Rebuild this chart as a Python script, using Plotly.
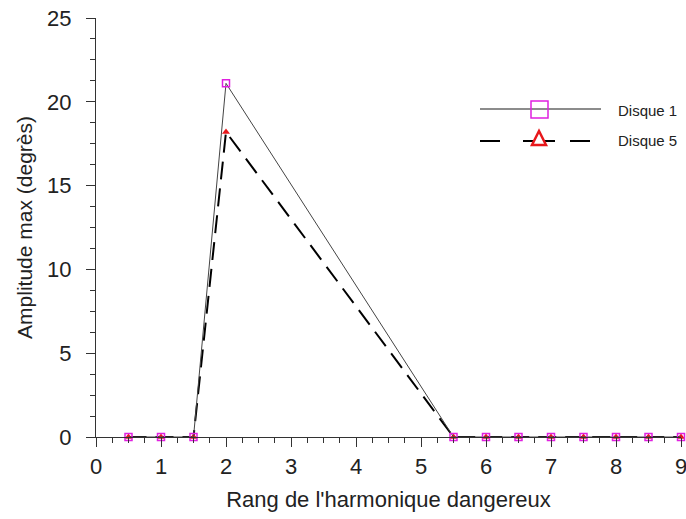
import plotly.graph_objects as go

harmonic_rank = [0.5, 1, 1.5, 2, 5.5, 6, 6.5, 7, 7.5, 8, 8.5, 9]
disque1_amp = [0, 0, 0, 21.1, 0, 0, 0, 0, 0, 0, 0, 0]
disque5_amp = [0, 0, 0, 18.2, 0, 0, 0, 0, 0, 0, 0, 0]
series_names = ["Disque 1", "Disque 5"]
x_tick_vals = [0, 1, 2, 3, 4, 5, 6, 7, 8, 9]
y_tick_vals = [0, 5, 10, 15, 20, 25]

FONT = "Liberation Sans, Arial, sans-serif"

fig = go.Figure()
fig.add_trace(go.Scatter(
    x=harmonic_rank, y=disque5_amp, mode="lines+markers", name=series_names[1],
    line=dict(color="black", width=2, dash="18px,9px"),
    marker=dict(symbol="triangle-up", size=7, color="#e8181c"),
    cliponaxis=False, showlegend=False))
fig.add_trace(go.Scatter(
    x=harmonic_rank, y=disque1_amp, mode="lines+markers", name=series_names[0],
    line=dict(color="#444444", width=1),
    marker=dict(symbol="square-open", size=7, color="#e020e0", line=dict(width=1.5)),
    cliponaxis=False, showlegend=False))

# manual legend (paper coords)
def px2x(px):
    return (px - 96) / (681 - 96)

def px2y(py):
    return (437 - py) / (437 - 18)

shapes = []
shapes.append(dict(type="line", xref="paper", yref="paper",
                   x0=px2x(480), x1=px2x(601), y0=px2y(109), y1=px2y(109),
                   line=dict(color="#666666", width=1.5)))
shapes.append(dict(type="rect", xref="paper", yref="paper",
                   x0=px2x(531), x1=px2x(548), y0=px2y(101), y1=px2y(118),
                   line=dict(color="#e020e0", width=1.5), fillcolor="rgba(0,0,0,0)"))
for a, b in [(480, 500), (523, 533), (543, 555), (570, 590)]:
    shapes.append(dict(type="line", xref="paper", yref="paper",
                       x0=px2x(a), x1=px2x(b), y0=px2y(141), y1=px2y(141),
                       line=dict(color="black", width=2)))
shapes.append(dict(type="path", xref="paper", yref="paper",
                   path="M {} {} L {} {} L {} {} Z".format(
                       px2x(532), px2y(145), px2x(546), px2y(145), px2x(539), px2y(131)),
                   line=dict(color="#e8181c", width=2.5), fillcolor="rgba(0,0,0,0)"))

annotations = [
    dict(text=series_names[0], xref="paper", yref="paper", x=px2x(616), y=px2y(110),
         xanchor="left", yanchor="middle", showarrow=False,
         font=dict(family=FONT, size=15, color="#222")),
    dict(text=series_names[1], xref="paper", yref="paper", x=px2x(616), y=px2y(140),
         xanchor="left", yanchor="middle", showarrow=False,
         font=dict(family=FONT, size=15, color="#222")),
]

fig.update_layout(
    width=686, height=519,
    margin=dict(l=96, r=5, t=18, b=82),
    paper_bgcolor="white", plot_bgcolor="white",
    font=dict(family=FONT, size=19, color="#222"),
    shapes=shapes, annotations=annotations,
    xaxis=dict(range=[0, 9], tickvals=x_tick_vals, showgrid=False, zeroline=False,
               automargin="bottom", ticklabeloverflow="allow",
               showline=True, linecolor="#333", linewidth=1.2,
               ticks="outside", ticklen=9, tickcolor="#333",
               minor=dict(dtick=0.25, ticks="outside", ticklen=5, tickcolor="#333"),
               tickfont=dict(size=22),
               title=dict(text="Rang de l'harmonique dangereux", font=dict(size=22), standoff=14)),
    yaxis=dict(range=[0, 25], tickvals=y_tick_vals, showgrid=False, zeroline=False,
               automargin="left", ticklabeloverflow="allow", ticklabelstandoff=10,
               showline=True, linecolor="#333", linewidth=1.2,
               ticks="outside", ticklen=9, tickcolor="#333",
               minor=dict(dtick=1.25, ticks="outside", ticklen=5, tickcolor="#333"),
               tickfont=dict(size=22),
               title=dict(text="Amplitude max (degrès)", font=dict(size=21), standoff=8)),
)

fig.write_html("out.html", config={"displayModeBar": False},
               post_script="document.body.style.margin='0';document.body.style.overflow='hidden';")
